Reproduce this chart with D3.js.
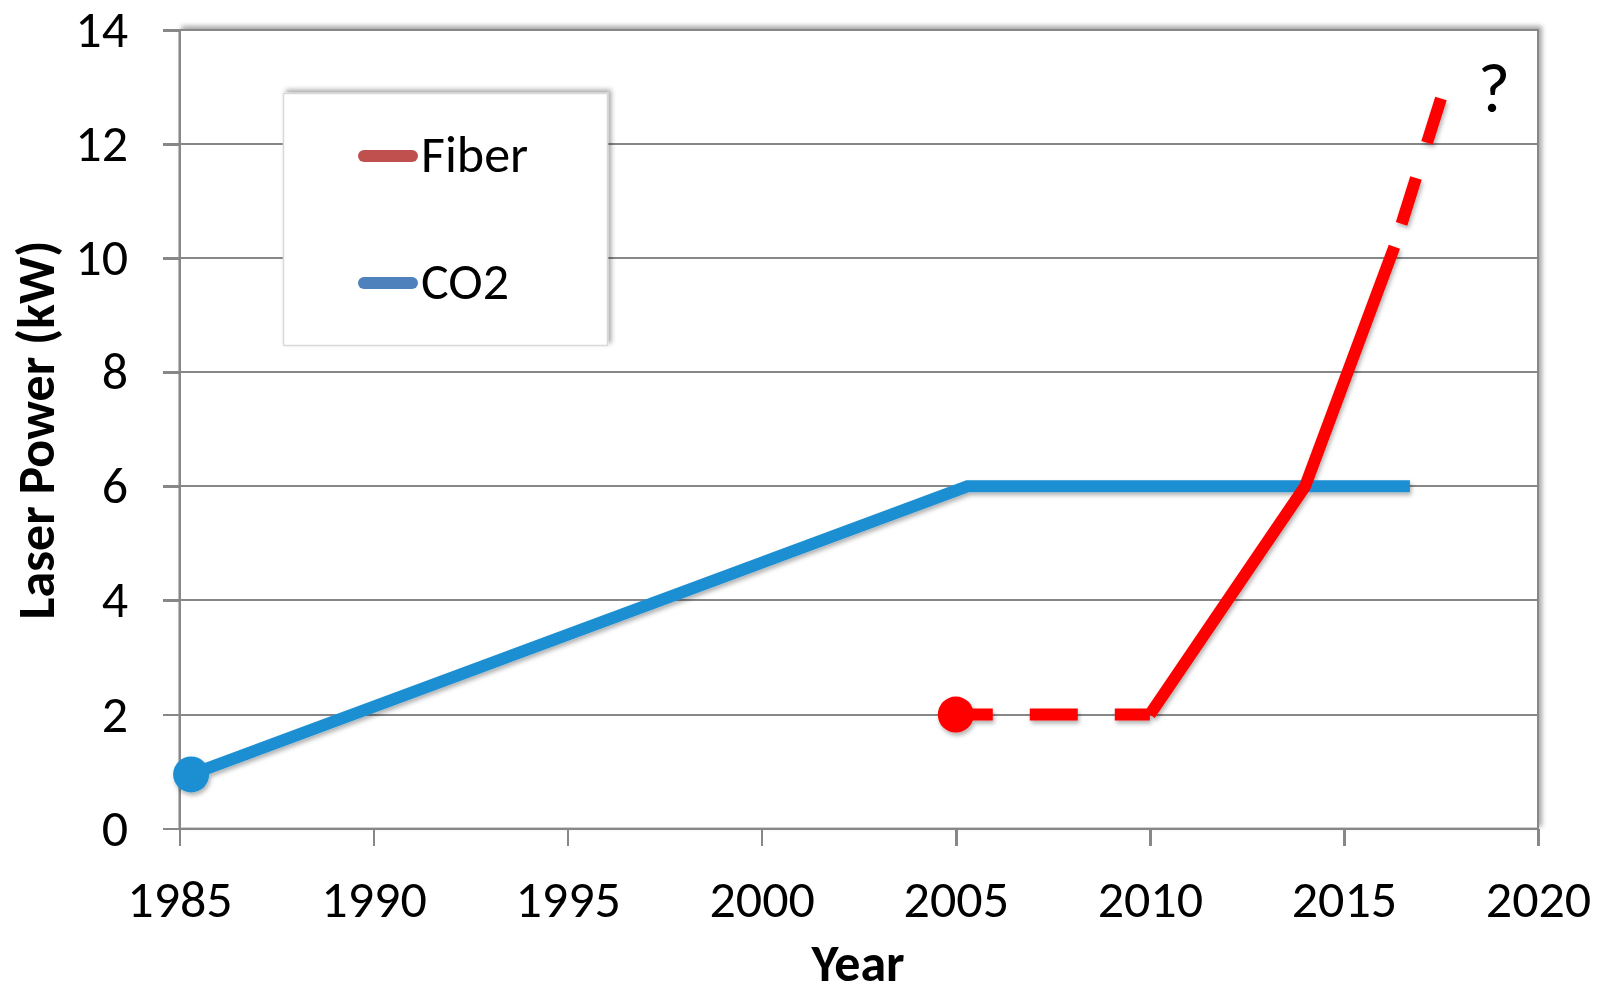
<!DOCTYPE html>
<html lang="en">
<head>
<meta charset="utf-8">
<title>Laser Power by Year</title>
<style>
  body { margin: 0; background: #fff; }
  #chart text { font-family: "Carlito", "Liberation Sans", Arial, sans-serif; fill: #000; }
  .tick text { font-size: 52px; }
  .axis path, .axis line { stroke: #878787; stroke-width: 2.5; shape-rendering: crispEdges; }
  .grid line { stroke: #878787; stroke-width: 2; shape-rendering: crispEdges; }
</style>
</head>
<body>
<div id="chart"></div>
<script src="https://d3js.org/d3.v7.min.js"></script>
<script>
// --- data ---
const co2Years = [1985.3, 2005.3, 2016.7];
const co2Power = [0.95, 6, 6];

const fiberYears = [2005, 2010, 2012, 2014, 2016.3, 2017.5];
const fiberPower = [2, 2, 4, 6, 10.2, 12.8];
// projected (dashed) segments between consecutive fiber points
const fiberProjected = [true, false, false, false, true];

const xTicks = [1985, 1990, 1995, 2000, 2005, 2010, 2015, 2020];
const yTicks = [0, 2, 4, 6, 8, 10, 12, 14];

const seriesNames = ["Fiber", "CO2"];

// --- layout ---
const chartWidth = 1604, chartHeight = 995;
const plotLeft = 179.5, plotRight = 1538, plotTop = 30, plotBottom = 828.6;

const svg = d3.select("#chart").append("svg")
  .attr("width", chartWidth)
  .attr("height", chartHeight);

const defs = svg.append("defs");
const boxShadow = defs.append("filter").attr("id", "boxShadow")
  .attr("x", "-10%").attr("y", "-10%").attr("width", "120%").attr("height", "120%");
boxShadow.append("feDropShadow")
  .attr("dx", 3).attr("dy", -3).attr("stdDeviation", 2.5)
  .attr("flood-color", "#000").attr("flood-opacity", 0.35);
const lineShadow = defs.append("filter").attr("id", "lineShadow")
  .attr("x", "-20%").attr("y", "-20%").attr("width", "140%").attr("height", "140%");
lineShadow.append("feDropShadow")
  .attr("dx", 1.5).attr("dy", 3).attr("stdDeviation", 2)
  .attr("flood-color", "#000").attr("flood-opacity", 0.3);

const x = d3.scaleLinear().domain([1985, 2020]).range([plotLeft, plotRight]);
const y = d3.scaleLinear().domain([0, 14]).range([plotBottom, plotTop]);

// plot area frame (top + right edges with shadow)
svg.append("rect")
  .attr("x", plotLeft).attr("y", plotTop)
  .attr("width", plotRight - plotLeft).attr("height", plotBottom - plotTop)
  .attr("fill", "#fff").attr("stroke", "#878787").attr("stroke-width", 2)
  .attr("filter", "url(#boxShadow)");

// gridlines
svg.append("g").attr("class", "grid")
  .selectAll("line")
  .data(yTicks)
  .join("line")
  .attr("x1", plotLeft - 17).attr("x2", plotRight)
  .attr("y1", d => y(d)).attr("y2", d => y(d));

// axes
const xAxis = svg.append("g").attr("class", "axis")
  .attr("transform", `translate(0,${plotBottom})`)
  .call(d3.axisBottom(x).tickValues(xTicks).tickFormat(d3.format("d")).tickSizeInner(17).tickSizeOuter(0));
xAxis.selectAll(".tick text").attr("y", 88).attr("dy", 0);

const yAxis = svg.append("g").attr("class", "axis")
  .attr("transform", `translate(${plotLeft},0)`)
  .call(d3.axisLeft(y).tickValues(yTicks).tickSizeInner(17).tickSizeOuter(0));
yAxis.selectAll(".tick text").attr("x", -51.5).attr("dy", 16.5);
yAxis.select(".domain").attr("stroke-width", 3);

// axis titles
svg.append("text")
  .attr("x", 858).attr("y", 981)
  .attr("text-anchor", "middle")
  .style("font-size", "52px").style("font-weight", "bold")
  .text("Year");

svg.append("text")
  .attr("transform", "translate(54,430) rotate(-90)")
  .attr("text-anchor", "middle")
  .style("font-size", "52px").style("font-weight", "bold")
  .text("Laser Power (kW)");

// --- series ---
const line = d3.line().x(d => x(d[0])).y(d => y(d[1]));

const co2Pts = co2Years.map((yr, i) => [yr, co2Power[i]]);
const fiberPts = fiberYears.map((yr, i) => [yr, fiberPower[i]]);

const lines = svg.append("g").attr("filter", "url(#lineShadow)");

lines.append("path")
  .datum(co2Pts)
  .attr("d", line)
  .attr("fill", "none").attr("stroke", "#1b8fd2").attr("stroke-width", 12)
  .attr("stroke-linejoin", "miter");

// split fiber into runs of same style
const runs = [];
fiberProjected.forEach((p, i) => {
  const last = runs[runs.length - 1];
  if (last && last.projected === p) last.pts.push(fiberPts[i + 1]);
  else runs.push({ projected: p, pts: [fiberPts[i], fiberPts[i + 1]] });
});
const dashOffsets = [11, 61];
let dashIdx = 0;
runs.forEach(r => {
  const p = lines.append("path")
    .datum(r.pts)
    .attr("d", line)
    .attr("fill", "none").attr("stroke", "#ff0000").attr("stroke-width", 12)
    .attr("stroke-linejoin", "miter").attr("stroke-linecap", "butt");
  if (r.projected) {
    p.attr("stroke-dasharray", "48,37").attr("stroke-dashoffset", dashOffsets[dashIdx++]);
  }
});

// start markers
lines.append("circle")
  .attr("cx", x(co2Years[0])).attr("cy", y(co2Power[0])).attr("r", 18)
  .attr("fill", "#1b8fd2");
lines.append("circle")
  .attr("cx", x(fiberYears[0])).attr("cy", y(fiberPower[0])).attr("r", 18)
  .attr("fill", "#ff0000");

// question mark
svg.append("text")
  .attr("x", 1494).attr("y", 112)
  .attr("text-anchor", "middle")
  .style("font-size", "70px")
  .text("?");

// --- legend ---
const legend = svg.append("g");
legend.append("rect")
  .attr("x", 283.5).attr("y", 93.5).attr("width", 324).attr("height", 252)
  .attr("fill", "#fff").attr("stroke", "#d9d9d9").attr("stroke-width", 1.5)
  .attr("filter", "url(#boxShadow)");
const legendColors = ["#c0504d", "#4f81bd"];
const legendY = [156, 283];
seriesNames.forEach((name, i) => {
  legend.append("line")
    .attr("x1", 364).attr("x2", 412)
    .attr("y1", legendY[i]).attr("y2", legendY[i])
    .attr("stroke", legendColors[i]).attr("stroke-width", 12)
    .attr("stroke-linecap", "round");
  legend.append("text")
    .attr("x", 421).attr("y", legendY[i] + 16)
    .style("font-size", "52px")
    .text(name);
});
</script>
</body>
</html>
